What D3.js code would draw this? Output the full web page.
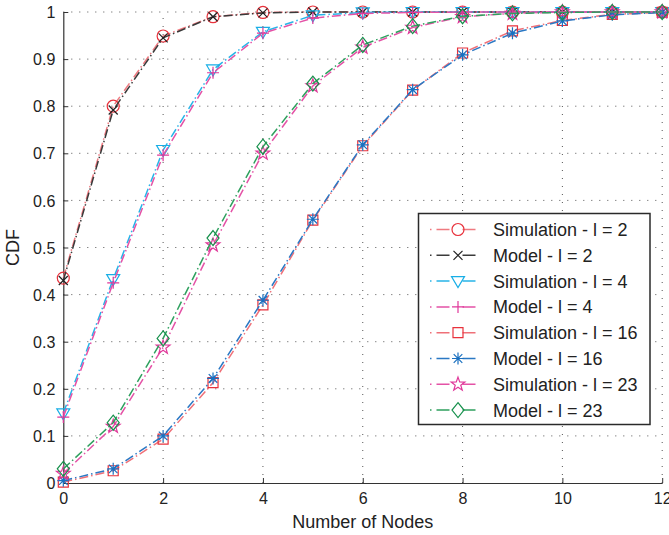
<!DOCTYPE html>
<html><head><meta charset="utf-8">
<script src="https://cdn.jsdelivr.net/npm/d3@7"></script>
<style>html,body{margin:0;padding:0;background:#fff;}text{font-family:"Liberation Sans",Arial,Helvetica,sans-serif;fill:#222;}</style>
</head><body><svg id="c" width="669" height="535"></svg>
<script>
const xs = [0,1,2,3,4,5,6,7,8,9,10,11,12];
const simL2   = [0.435,0.800,0.949,0.990,0.999,1.000,1,1,1,1,1,1,1];
const modL2   = [0.430,0.792,0.945,0.990,0.998,1.000,1,1,1,1,1,1,1];
const simL4   = [0.148,0.433,0.707,0.878,0.958,0.993,0.999,1,1,1,1,1,1];
const modL4   = [0.140,0.425,0.696,0.871,0.955,0.987,0.997,0.999,1,1,1,1,1];
const simL16  = [0.002,0.026,0.093,0.213,0.378,0.558,0.716,0.834,0.913,0.960,0.982,0.995,0.999];
const modL16  = [0.005,0.030,0.100,0.222,0.388,0.560,0.718,0.835,0.909,0.955,0.981,0.994,0.999];
const simL23  = [0.020,0.120,0.288,0.505,0.700,0.843,0.925,0.967,0.990,0.997,1,1,1];
const modL23  = [0.030,0.128,0.307,0.520,0.714,0.848,0.930,0.970,0.991,0.997,0.999,1,1];
const legendLabels = ["Simulation - l = 2","Model - l = 2","Simulation - l = 4","Model - l = 4","Simulation - l = 16","Model - l = 16","Simulation - l = 23","Model - l = 23"];
const xTicks = [0,2,4,6,8,10,12];
const yTicks = [0,0.1,0.2,0.3,0.4,0.5,0.6,0.7,0.8,0.9,1];

const series = [
  {v:simL2,  line:"#ef7a80", mk:"#e8323c", m:"circle"},
  {v:modL2,  line:"#3a3a3a", mk:"#222222", m:"x"},
  {v:simL4,  line:"#27b4e8", mk:"#18aee6", m:"tri"},
  {v:modL4,  line:"#e452a6", mk:"#e0389a", m:"plus"},
  {v:simL16, line:"#ef7078", mk:"#e8323c", m:"square"},
  {v:modL16, line:"#2a78c4", mk:"#1a70c0", m:"ast"},
  {v:simL23, line:"#e452a6", mk:"#e0389a", m:"star"},
  {v:modL23, line:"#2ea05e", mk:"#16904c", m:"diamond"}
];

const svg = d3.select("#c");
const L=63.3, R=662.2, T=12, B=483;
const x = d3.scaleLinear().domain([0,12]).range([L,R]);
const y = d3.scaleLinear().domain([0,1]).range([B,T]);

// grid
const g = svg.append("g");
g.selectAll(".gv").data(xTicks.filter(d=>d>0)).enter().append("line")
  .attr("x1",d=>x(d)).attr("x2",d=>x(d)).attr("y1",B).attr("y2",T)
  .attr("stroke","#555").attr("stroke-width",1).attr("stroke-dasharray","1,7");
g.selectAll(".gh").data(yTicks.filter(d=>d>0)).enter().append("line")
  .attr("y1",d=>y(d)).attr("y2",d=>y(d)).attr("x1",L).attr("x2",R)
  .attr("stroke","#555").attr("stroke-width",1).attr("stroke-dasharray","1,7");

// axes
const xAxis = d3.axisBottom(x).tickValues(xTicks).tickSizeInner(-5).tickSizeOuter(0).tickPadding(10).tickFormat(d3.format("d"));
const yAxis = d3.axisLeft(y).tickValues(yTicks).tickSizeInner(-5).tickSizeOuter(0).tickPadding(8).tickFormat(d=>d===0||d===1?String(d):d3.format(".1f")(d));
const gx = svg.append("g").attr("transform",`translate(0,${B})`).call(xAxis);
const gy = svg.append("g").attr("transform",`translate(${L},0)`).call(yAxis);
[gx,gy].forEach(a=>{
  a.select(".domain").attr("stroke","#333").attr("stroke-width",1.2);
  a.selectAll(".tick line").attr("stroke","#333").attr("stroke-width",1);
  a.selectAll(".tick text").attr("font-size","16px").attr("fill","#222").style("font-family","'Liberation Sans',Arial,sans-serif");
});
gy.selectAll(".tick text").attr("dy","0.35em");

svg.append("text").attr("x",(L+R)/2).attr("y",528).attr("text-anchor","middle").attr("font-size","18px").text("Number of Nodes");
svg.append("text").attr("transform",`translate(19,${(T+B)/2}) rotate(-90)`).attr("text-anchor","middle").attr("font-size","18px").text("CDF");

// marker paths (relative to centre)
function markerPath(m){
  const p = d3.path();
  if(m==="circle"){ p.moveTo(6,0); p.arc(0,0,6,0,2*Math.PI); }
  else if(m==="x"){ p.moveTo(-4.5,-4.5);p.lineTo(4.5,4.5);p.moveTo(-4.5,4.5);p.lineTo(4.5,-4.5); }
  else if(m==="tri"){ p.moveTo(-6.5,-4.5);p.lineTo(6.5,-4.5);p.lineTo(0,6.5);p.closePath(); }
  else if(m==="plus"){ p.moveTo(-6,0);p.lineTo(6,0);p.moveTo(0,-6);p.lineTo(0,6); }
  else if(m==="square"){ p.rect(-5,-5,10,10); }
  else if(m==="ast"){ p.moveTo(-6,0);p.lineTo(6,0);p.moveTo(0,-6);p.lineTo(0,6);p.moveTo(-4.3,-4.3);p.lineTo(4.3,4.3);p.moveTo(-4.3,4.3);p.lineTo(4.3,-4.3); }
  else if(m==="star"){ for(let i=0;i<10;i++){const r=i%2?2.9:7.2;const a=-Math.PI/2+i*Math.PI/5;const px=r*Math.cos(a),py=r*Math.sin(a);i?p.lineTo(px,py):p.moveTo(px,py);} p.closePath(); }
  else if(m==="diamond"){ p.moveTo(0,-7.5);p.lineTo(6,0);p.lineTo(0,7.5);p.lineTo(-6,0);p.closePath(); }
  return p.toString();
}

const line = d3.line().x((d,i)=>x(xs[i])).y(d=>y(d));
const dash = "9,3,1.5,3";
series.forEach(s=>{
  svg.append("path").attr("d",line(s.v)).attr("fill","none").attr("stroke",s.line)
    .attr("stroke-width",1.5).attr("stroke-dasharray",dash);
  svg.append("g").selectAll("path").data(s.v).enter().append("path")
    .attr("transform",(d,i)=>`translate(${x(xs[i])},${y(d)})`)
    .attr("d",markerPath(s.m)).attr("fill","none").attr("stroke",s.mk).attr("stroke-width",1.2);
});

// legend
const lg = svg.append("g");
lg.append("rect").attr("x",418.5).attr("y",213.5).attr("width",231.5).attr("height",211)
  .attr("fill","#fff").attr("stroke","#2a2a2a").attr("stroke-width",1.5);
series.forEach((s,i)=>{
  const cy = 229.5 + i*25.8;
  const row = lg.append("g");
  row.append("line").attr("x1",430).attr("x2",477).attr("y1",cy).attr("y2",cy)
    .attr("stroke",s.line).attr("stroke-width",1.5).attr("stroke-dasharray","1.5,5,13,13,13,5,1.5");
  row.append("path").attr("transform",`translate(458,${cy})`).attr("d",markerPath(s.m))
    .attr("fill","none").attr("stroke",s.mk).attr("stroke-width",1.2);
  row.append("text").attr("x",493).attr("y",cy).attr("dy","0.36em").attr("font-size","18px").text(legendLabels[i]);
});
</script></body></html>
